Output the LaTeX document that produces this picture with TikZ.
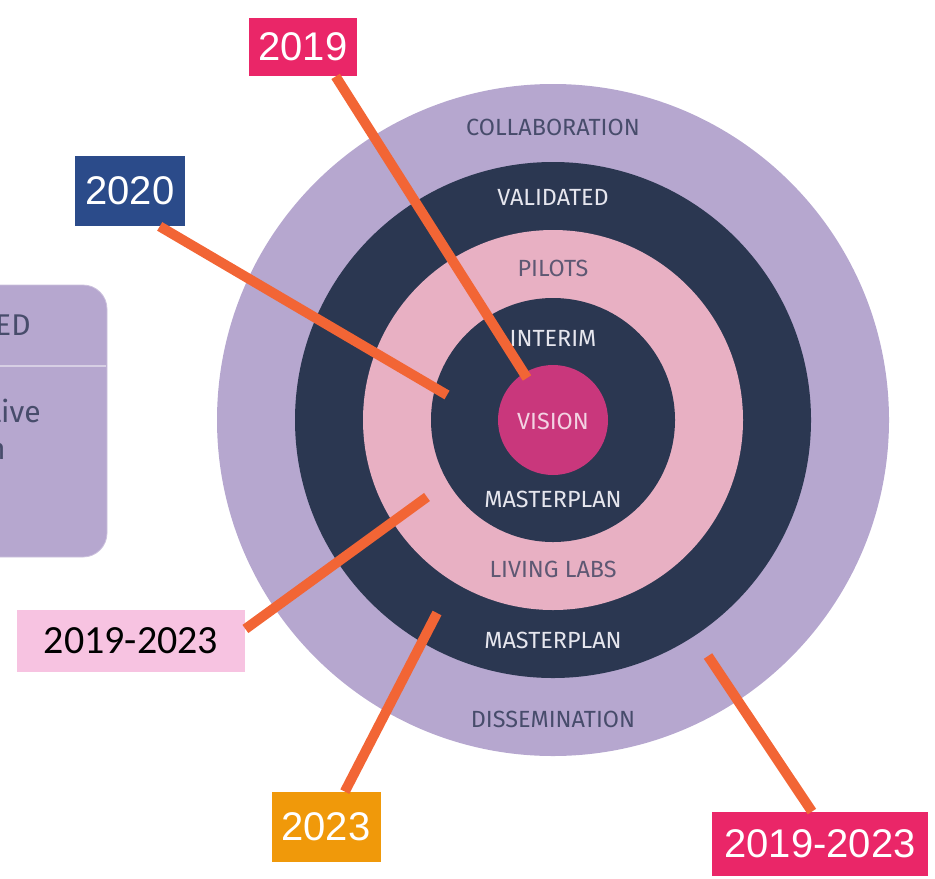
\documentclass[tikz,border=0pt]{standalone}
\usepackage{fontspec}
\setmainfont{Liberation Sans}
\newfontfamily\ringfont{Fira Sans}
\newfontfamily\calfont{Carlito}
\usepackage{tikz}

\definecolor{lavender}{HTML}{B6A7CF}
\definecolor{darkring}{HTML}{2B3751}
\definecolor{pinkring}{HTML}{E8B0C3}
\definecolor{visionc}{HTML}{C9377C}
\definecolor{leadc}{HTML}{F26535}
\definecolor{magentabox}{HTML}{EA2668}
\definecolor{navybox}{HTML}{2B4B8A}
\definecolor{lightpink}{HTML}{F7C3E1}
\definecolor{orangebox}{HTML}{F0990A}
\definecolor{lavtext}{HTML}{474C6B}
\definecolor{pinktext}{HTML}{5E5873}
\definecolor{lighttext}{HTML}{E6E6EE}
\definecolor{visiontext}{HTML}{F3D3E3}

\tikzset{
  yearbox/.style={inner sep=0pt, text=white, font=\fontsize{20}{24}\selectfont},
  ringtext/.style={font=\ringfont\fontsize{11.7}{14}\selectfont},
  paneltext/.style={font=\ringfont\fontsize{15}{18}\selectfont, text=lavtext, inner sep=0pt},
  disc/.style={circle, inner sep=0pt, minimum size=#1},
  leader/.style={leadc, line width=5pt}
}

\begin{document}
\begin{tikzpicture}[x=0.5pt,y=-0.5pt]
\useasboundingbox (0,0) rectangle (935,878);

% cut-off panel on the left
\draw [fill=lavender, draw=lavender!70!white, rounded corners=12pt] (-100,285) rectangle (107,557);
\draw [lavender!55!white, line width=1pt] (-100,366) -- (106,366);
\node [paneltext, anchor=east] (edtxt) at (31,325) {ED};
\node [paneltext, anchor=base east] (tivetxt) at (41,422) {tive};
\node [paneltext, anchor=base east] (ntxt) at (6,459) {n};

% rings
\node [disc=336pt, fill=lavender] (outer) at (553,420) {};
\node [disc=258pt, fill=darkring] (validated) at (553,420) {};
\node [disc=190pt, fill=pinkring] (pilots) at (553,420) {};
\node [disc=122pt, fill=darkring] (interim) at (553,420) {};
\node [disc=55pt, fill=visionc] (vision) at (553,420) {};

\node [ringtext, text=lavtext] (collab) at (553,127) {COLLABORATION};
\node [ringtext, text=lighttext] (valid) at (553,197) {VALIDATED};
\node [ringtext, text=pinktext] (pilot) at (553,268) {PILOTS};
\node [ringtext, text=lighttext] (inter) at (553,338) {INTERIM};
\node [ringtext, text=visiontext] (vis) at (553,421) {VISION};
\node [ringtext, text=lighttext] (master1) at (553,499) {MASTERPLAN};
\node [ringtext, text=pinktext] (living) at (553,569) {LIVING LABS};
\node [ringtext, text=lighttext] (master2) at (553,640) {MASTERPLAN};
\node [ringtext, text=lavtext] (dissem) at (553,719) {DISSEMINATION};

% year labels
\node [yearbox, fill=magentabox, minimum width=54pt, minimum height=29pt] (y2019) at (303,47) {2019};
\node [yearbox, fill=navybox, minimum width=55pt, minimum height=35pt] (y2020) at (130,191) {2020};
\node [yearbox, fill=lightpink, text=black, font=\calfont\fontsize{20}{24}\selectfont, minimum width=114pt, minimum height=31pt] (yrange) at (131,641) {2019-2023};
\node [yearbox, fill=orangebox, minimum width=54.5pt, minimum height=35pt] (y2023) at (326,827) {2023};
\node [yearbox, fill=magentabox, minimum width=108pt, minimum height=32pt] (yall) at (820,844) {2019-2023};

% leader ends
\coordinate (tip2019) at (527,378);
\coordinate (tip2020) at (447,395);
\coordinate (tiprange) at (427,497);
\coordinate (tip2023) at (437,613);
\coordinate (tipall) at (708,656);

\draw [leader] (y2019.-42) -- (tip2019);
\draw [leader] (y2020.-50) -- (tip2020);
\draw [leader] (yrange.6) -- (tiprange);
\draw [leader] (y2023.62) -- (tip2023);
\draw [leader] (yall.104) -- (tipall);
\end{tikzpicture}
\end{document}
